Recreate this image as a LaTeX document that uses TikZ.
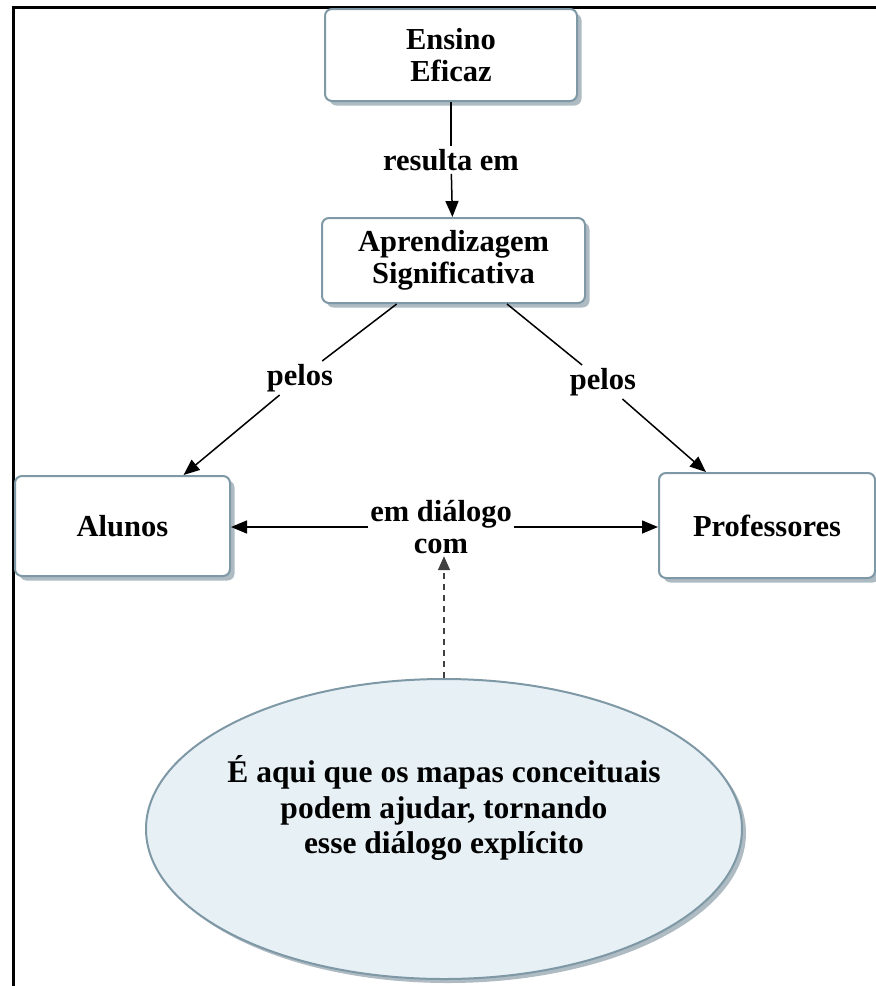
\documentclass[tikz,border=0pt]{standalone}
\usepackage{fontspec}
\setmainfont{Liberation Serif}
\usetikzlibrary{shapes.geometric,shadows,arrows.meta}

\definecolor{edgeblue}{HTML}{7E98A6}
\definecolor{shadegray}{HTML}{AEBBC2}
\definecolor{bubblefill}{HTML}{E7F0F5}

\tikzset{
  x=1pt, y=-1pt,
  txt/.style={font=\fontsize{30.5}{32.5}\selectfont\bfseries},
  concept/.style={txt, draw=edgeblue, line width=2pt, fill=white,
    rounded corners=7pt, align=center, inner sep=0pt,
    drop shadow={shadow xshift=4.5pt, shadow yshift=-4.5pt, fill=shadegray, opacity=1}},
  bubble/.style={ellipse, draw=edgeblue, line width=2pt, fill=bubblefill, inner sep=0pt,
    drop shadow={shadow xshift=4pt, shadow yshift=-4pt, fill=shadegray, opacity=1}},
  bubbletext/.style={font=\fontsize{31.5}{35.5}\selectfont\bfseries, align=center, inner sep=0pt},
  linklabel/.style={txt, fill=white, inner sep=3pt, align=center},
  link/.style={line width=1.5pt, -{Triangle[length=16pt,width=13pt]}},
  plainlink/.style={line width=1.5pt},
  dashlink/.style={line width=1.5pt, draw=black!75, dash pattern=on 6pt off 5pt,
    -{Triangle[length=14pt,width=12pt]}}
}

\begin{document}
\begin{tikzpicture}
\useasboundingbox (0,0) rectangle (876,986);

% page frame (top and left rules)
\draw[line width=3pt] (13,986) -- (13,7) -- (876,7);

% concepts
\node[concept, minimum width=252pt, minimum height=92pt] (ens) at (451,55) {Ensino\\Eficaz};
\node[concept, minimum width=263pt, minimum height=85pt] (apr) at (453.5,260.5) {Aprendizagem\\Significativa};
\node[concept, minimum width=215pt, minimum height=100pt] (alu) at (122.5,526) {Alunos};
\node[concept, minimum width=216pt, minimum height=105pt] (pro) at (767,525.5) {Professores};

% explanatory bubble
\node[bubble, minimum width=596pt, minimum height=300pt] (ell) at (444,829) {};
\node[bubbletext] (elltxt) at ([yshift=21pt]ell.center)
  {É aqui que os mapas conceituais\\podem ajudar, tornando\\esse diálogo explícito};

% linking phrases
\node[linklabel] (res) at (451,160) {resulta em};
\node[linklabel] (pl) at (300,378) {pelos};
\node[linklabel] (pr) at (603,382) {pelos};
\node[linklabel, inner sep=2pt] (dlg) at (441,527) {em diálogo\\com};

% connectors
\draw[plainlink] (ens) -- (res);
\draw[link] (res) -- (apr);
\draw[plainlink] (apr) -- (pl);
\draw[link] (pl) -- (alu);
\draw[plainlink] (apr) -- (pr);
\draw[link] (pr) -- (pro);
\draw[link] (dlg.west) -- (dlg.west -| alu.east);
\draw[link] (dlg.east) -- (dlg.east -| pro.west);
\draw[dashlink] (ell.north) -- (ell.north |- dlg.south);
\end{tikzpicture}
\end{document}
